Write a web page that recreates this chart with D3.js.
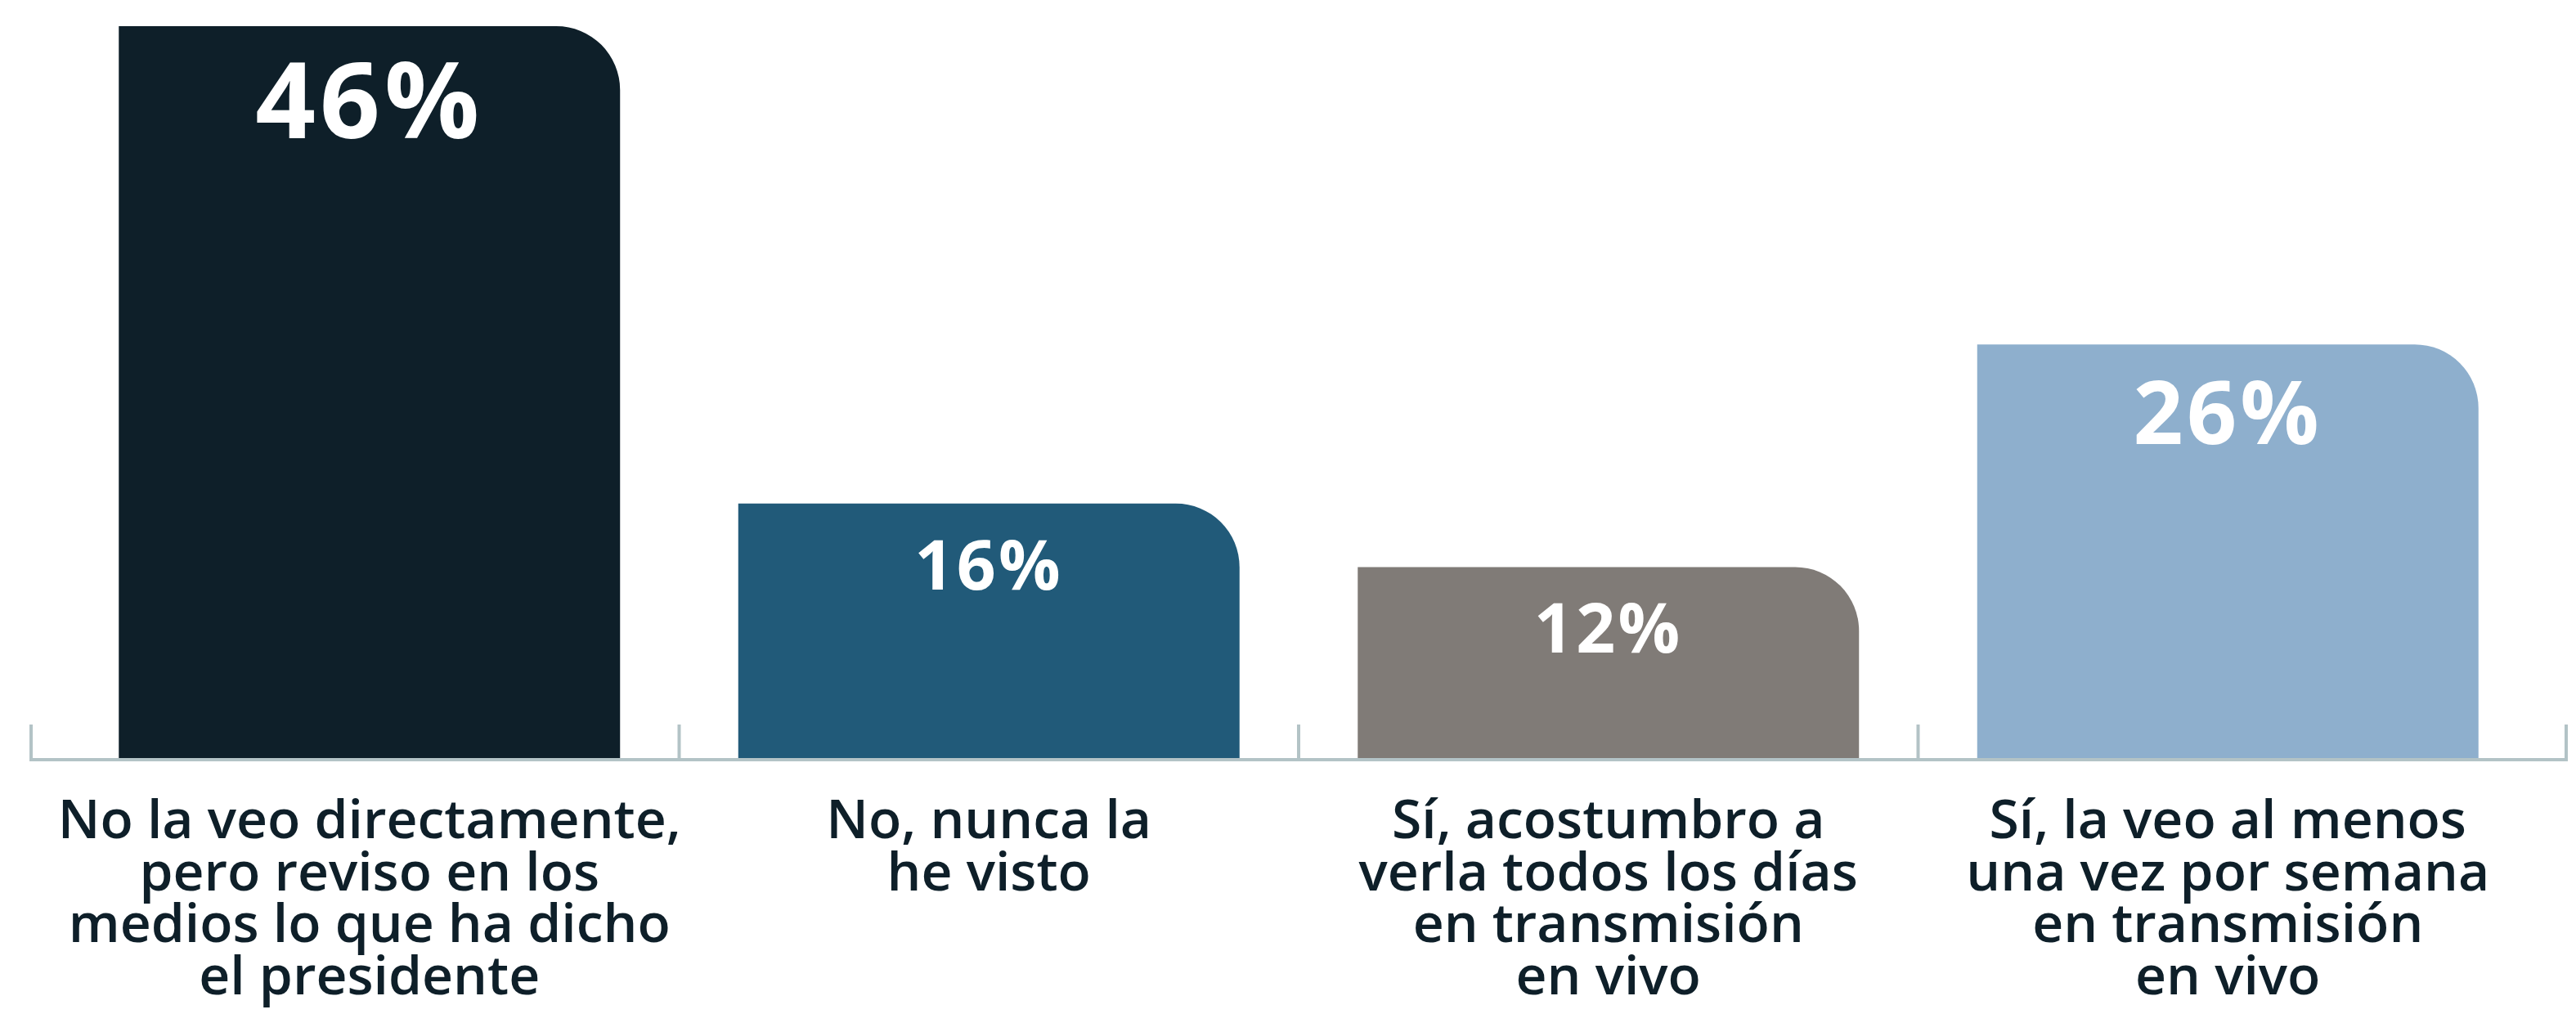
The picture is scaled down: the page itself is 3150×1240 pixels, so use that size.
<!DOCTYPE html>
<html>
<head>
<meta charset="utf-8">
<script src="https://cdn.jsdelivr.net/npm/d3@7"></script>
<style>
  html, body { margin: 0; padding: 0; background: #ffffff; }
  svg { display: block; }
</style>
</head>
<body>
<svg id="chart" width="3150" height="1240"></svg>
<script>
// ---- data ----
const categories = [
  ["No la veo directamente,", "pero reviso en los", "medios lo que ha dicho", "el presidente"],
  ["No, nunca la", "he visto"],
  ["Sí, acostumbro a", "verla todos los días", "en transmisión", "en vivo"],
  ["Sí, la veo al menos", "una vez por semana", "en transmisión", "en vivo"]
];
const values = [46, 16, 12, 26];
const valueLabels = ["46%", "16%", "12%", "26%"];

// ---- styles ----
const barColors = ["#0e1f29", "#215a79", "#807b77", "#8eafcd"];
const valueFontSizes = [129, 84, 84, 107];
const textColor = "#0e1f29";
const axisColor = "#b3c3c6";

const baseY = 927;
const svg = d3.select("#chart");

const keys = categories.map((c, i) => i);
const x = d3.scaleBand().domain(keys).range([38, 3138]).paddingInner(0.1908).paddingOuter(0.1416);
const y = d3.scaleLinear().domain([0, 46]).range([baseY, 32]);

const radius = 78;
function barPath(x0, w, yTop, yBot, r) {
  const rr = Math.min(r, w, yBot - yTop);
  return `M${x0},${yBot}V${yTop}H${x0 + w - rr}` +
         `A${rr},${rr} 0 0 1 ${x0 + w},${yTop + rr}V${yBot}Z`;
}

// bars
svg.append("g").selectAll("path").data(values).join("path")
  .attr("d", (v, i) => barPath(x(i), x.bandwidth(), y(v), y(0), radius))
  .attr("fill", (v, i) => barColors[i]);

// axis line + ticks
const step = x.step();
const gapHalf = step * x.paddingInner() / 2;
const tickXs = [x.range()[0]]
  .concat(keys.slice(0, -1).map(i => x(i) + x.bandwidth() + gapHalf))
  .concat([x.range()[1]]);
const axisG = svg.append("g");
axisG.append("line")
  .attr("x1", x.range()[0] - 2).attr("x2", x.range()[1] + 2)
  .attr("y1", baseY + 2).attr("y2", baseY + 2)
  .attr("stroke", axisColor).attr("stroke-width", 4);
axisG.selectAll("line.tick").data(tickXs).join("line")
  .attr("class", "tick")
  .attr("x1", d => d).attr("x2", d => d)
  .attr("y1", baseY - 41).attr("y2", baseY + 4)
  .attr("stroke", axisColor).attr("stroke-width", 4);

// value labels
svg.append("g").selectAll("text").data(values).join("text")
  .attr("x", (v, i) => x(i) + x.bandwidth() / 2)
  .attr("y", (v, i) => y(v) + 45 + 0.714 * valueFontSizes[i])
  .attr("text-anchor", "middle")
  .attr("font-family", "'Open Sans', 'DejaVu Sans', sans-serif")
  .attr("font-weight", 700)
  .attr("font-size", (v, i) => valueFontSizes[i])
  .attr("letter-spacing", (v, i) => valueFontSizes[i] * 0.04)
  .attr("fill", "#ffffff")
  .text((v, i) => valueLabels[i]);

// category labels
const catG = svg.append("g").selectAll("text").data(categories).join("text")
  .attr("x", (c, i) => x(i) + x.bandwidth() / 2)
  .attr("y", 1025)
  .attr("text-anchor", "middle")
  .attr("font-family", "'Open Sans', 'DejaVu Sans', sans-serif")
  .attr("font-weight", 600)
  .attr("font-size", 66)
  .attr("fill", textColor);
catG.each(function(c, i) {
  const t = d3.select(this);
  c.forEach((line, j) => {
    t.append("tspan")
      .attr("x", x(i) + x.bandwidth() / 2)
      .attr("dy", j === 0 ? 0 : 63.5)
      .text(line);
  });
});
</script>
</body>
</html>
